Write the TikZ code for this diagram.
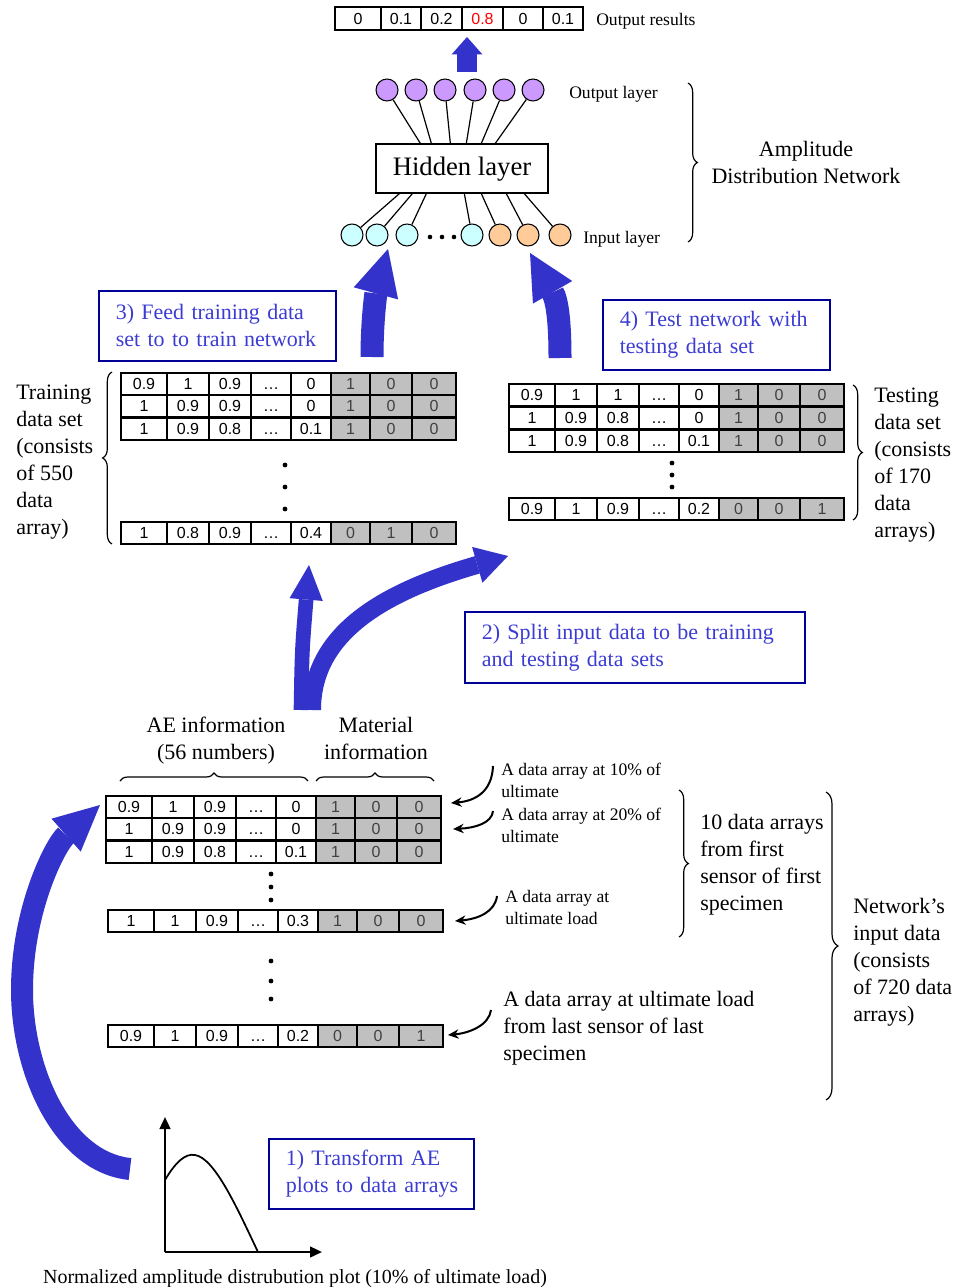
\documentclass[tikz,border=0pt]{standalone}
\usepackage{fontspec}
\setmainfont{Liberation Serif}
\newfontfamily\numfont{Liberation Sans}
\usetikzlibrary{arrows.meta,decorations.pathreplacing,calc}
\definecolor{arrowblue}{RGB}{51,51,204}
\definecolor{boxblue}{RGB}{0,0,153}
\definecolor{txtblue}{RGB}{60,60,210}
\definecolor{cellgrey}{RGB}{192,192,192}
\definecolor{outpurple}{RGB}{204,153,255}
\definecolor{incyan}{RGB}{204,255,255}
\definecolor{inorange}{RGB}{255,204,153}
\def\colpos{{0,46,88,130,170,210,249,291,335}}
\newcommand{\ellip}{…}
\newcommand{\datarow}[4]{%
  \foreach \v [count=\i] in {#4} {
    \pgfmathsetmacro\xa{#2+\colpos[\i-1]}
    \pgfmathsetmacro\xb{#2+\colpos[\i]}
    \ifnum\i>5 \def\cfill{cellgrey}\def\ctext{black!75}\else\def\cfill{white}\def\ctext{black}\fi
    \path[fill=\cfill,draw=black,line width=1pt] (\xa,#3) rectangle (\xb,#3+22);
    \node[numtext,text=\ctext] (#1-\i) at ({(\xa+\xb)/2},#3+11) {\v};
  }
  \draw[line width=1.5pt] (#2,#3) rectangle (#2+335,#3+22);
}
\begin{document}
\begin{tikzpicture}[x=0.75pt,y=-0.75pt,
  numtext/.style={font=\numfont\fontsize{12pt}{14pt}\selectfont, inner sep=0pt, text height=8.6pt, text depth=0pt},
  bigtxt/.style={font=\fontsize{16.5pt}{20.25pt}\selectfont, inner sep=0pt, align=left, yshift=-1.9pt},
  smalltxt/.style={font=\fontsize{13.2pt}{16.5pt}\selectfont, inner sep=0pt, align=left, yshift=-1.5pt},
  stepbox/.style={draw=boxblue, line width=1.2pt, text=txtblue, font=\fontsize{16.5pt}{20.25pt}\selectfont, align=left, inner xsep=12.75pt, inner ysep=0pt, anchor=north west, minimum height=52.5pt},
  neuron/.style={circle, draw, line width=0.8pt, minimum size=16.5pt, inner sep=0pt},
  bigarrow/.style={draw=arrowblue, line cap=butt},
  ptr/.style={line width=1.5pt, -{Stealth[length=8pt,width=7pt]}},
  brc/.style={decorate, decoration={brace, amplitude=#1}, line width=0.9pt}
]
\useasboundingbox (0,0) rectangle (956,1287);

% ---------- output results ----------
\foreach \xa/\xb/\v/\c [count=\i] in {335/381/0/black, 381/421/0.1/black, 421/462/0.2/black, 462/503/0.8/red, 503/543/0/black, 543/583/0.1/black} {
  \path[draw=black,line width=1pt] (\xa,7) rectangle (\xb,30);
  \node[numtext,text=\c] (out-\i) at ({(\xa+\xb)/2},18.5) {\v};
}
\draw[line width=1.5pt] (335,7) rectangle (583,30);
\node[smalltxt, anchor=west] (outres) at (596,19) {Output results};

% arrow from network to output
\coordinate (oa1) at (467,72);
\coordinate (oa2) at (467,37);
\draw[bigarrow, line width=15pt, -{Triangle[length=13pt,width=23pt,line width=0pt]}] (oa1) -- (oa2);

% ---------- network ----------
\node[draw, line width=1pt, minimum width=129pt, minimum height=36.75pt, font=\fontsize{20pt}{24pt}\selectfont, text depth=3pt] (hid) at (462,168.5) {Hidden layer};
\foreach \x [count=\i] in {387,416,445,475,504,533} {
  \node[neuron, fill=outpurple] (o\i) at (\x,90) {};
}
\foreach \i/\dx in {1/45,2/56,3/75,4/91,5/106,6/120} {
  \draw[line width=0.9pt] (o\i) -- ($(hid.north west)+(\dx,0)$);
}
\foreach \x/\c [count=\i] in {352/incyan,377/incyan,407/incyan,472/incyan,500/inorange,528/inorange,560/inorange} {
  \node[neuron, fill=\c] (i\i) at (\x,235) {};
}
\foreach \i/\dx in {1/24,2/37,3/51,4/89,5/106,6/131,7/149} {
  \draw[line width=0.9pt] (i\i) -- ($(hid.south west)+(\dx,0)$);
}
\foreach \x in {430,442,454} { \fill (\x,237) circle (2.3); }
\node[smalltxt, anchor=west] (outlay) at (569,92) {Output layer};
\node[smalltxt, anchor=west] (inlay) at (583,237) {Input layer};
\draw[brc=7pt] (688,83) -- (688,242);
\node[bigtxt, align=center, yshift=1.9pt] (adn) at (806,162.5) {Amplitude\\Distribution Network};

% ---------- step boxes ----------
\node[stepbox, text width=152.25pt] (b3) at (98,290) {\mbox{3) Feed training data}\\\mbox{set to to train network}};
\node[stepbox, text width=144.75pt] (b4) at (602,299) {\mbox{4) Test network with}\\\mbox{testing data set}};
\node[stepbox, text width=229.5pt, minimum height=53.25pt] (b2) at (464,611) {\mbox{2) Split input data to be training}\\\mbox{and testing data sets}};
\node[stepbox, text width=128.25pt] (b1) at (268,1138) {\mbox{1) Transform AE}\\\mbox{plots to data arrays}};

% ---------- training set ----------
\datarow{tr1}{121}{373}{0.9,1,0.9,\ellip,0,1,0,0}
\datarow{tr2}{121}{395}{1,0.9,0.9,\ellip,0,1,0,0}
\datarow{tr3}{121}{418}{1,0.9,0.8,\ellip,0.1,1,0,0}
\datarow{tr4}{121}{522}{1,0.8,0.9,\ellip,0.4,0,1,0}
\foreach \y in {465,487,509} { \fill (285,\y) circle (2.4); }
\draw[brc=7pt] (112,544) -- (112,372);
\node[bigtxt, anchor=west] (trainlbl) at (16,459.5) {Training\\data set\\(consists\\of 550\\data\\array)};

% ---------- testing set ----------
\datarow{te1}{509}{384}{0.9,1,1,\ellip,0,1,0,0}
\datarow{te2}{509}{407}{1,0.9,0.8,\ellip,0,1,0,0}
\datarow{te3}{509}{430}{1,0.9,0.8,\ellip,0.1,1,0,0}
\datarow{te4}{509}{498}{0.9,1,0.9,\ellip,0.2,0,0,1}
\foreach \y in {463,475,487} { \fill (672,\y) circle (2.4); }
\draw[brc=7pt] (853,385) -- (853,520);
\node[bigtxt, anchor=west] (testlbl) at (874,463) {Testing\\data set\\(consists\\of 170\\data\\arrays)};

% ---------- arrows 3 and 4 ----------
\coordinate (a3s) at (372,357);
\coordinate (a3e) at (388,249);
\draw[bigarrow, line width=17.25pt, -{Triangle[length=34.5pt,width=34.5pt,line width=0pt]}] (a3s) .. controls (372,320) and (376,293) .. (a3e);
\coordinate (a4s) at (560,358);
\coordinate (a4e) at (530,253);
\draw[bigarrow, line width=17.25pt, -{Triangle[length=34pt,width=34pt,line width=0pt]}] (a4s) .. controls (560,320) and (557,300) .. (a4e);

% ---------- split arrow 2 ----------
\coordinate (a2v) at (301,710);
\coordinate (a2ve) at (309,565);
\coordinate (a2c) at (312,710);
\coordinate (a2ce) at (508,556);
\draw[bigarrow, line width=11pt, -{Triangle[length=26pt,width=25pt,line width=0pt]}] (a2v) .. controls (302,650) .. (a2ve);
\draw[bigarrow, line width=13.5pt, -{Triangle[length=24pt,width=28pt,line width=0pt]}] (a2c) .. controls (312,630) and (390,590) .. (a2ce);

% ---------- input data ----------
\node[bigtxt, align=center] (aeinfo) at (216,738.5) {AE information\\(56 numbers)};
\node[bigtxt, align=center] (matinfo) at (376,735.5) {Material\\information};
\draw[brc=6pt] (120,781) -- (308,781);
\draw[brc=6pt] (316,781) -- (434,781);
\datarow{in1}{106}{796}{0.9,1,0.9,\ellip,0,1,0,0}
\datarow{in2}{106}{818}{1,0.9,0.9,\ellip,0,1,0,0}
\datarow{in3}{106}{841}{1,0.9,0.8,\ellip,0.1,1,0,0}
\foreach \y in {874,887,900} { \fill (271,\y) circle (2.4); }
\datarow{in4}{108}{910}{1,1,0.9,\ellip,0.3,1,0,0}
\foreach \y in {961,981,999} { \fill (271,\y) circle (2.4); }
\datarow{in5}{108}{1025}{0.9,1,0.9,\ellip,0.2,0,0,1}

\node[smalltxt, anchor=west] (ann1) at (501,778) {A data array at 10\% of\\ultimate};
\node[smalltxt, anchor=west] (ann2) at (501,823) {A data array at 20\% of\\ultimate};
\node[smalltxt, anchor=west] (ann3) at (505,905.5) {A data array at\\ultimate load};
\node[bigtxt, anchor=west] (ann4) at (503,1026) {A data array at ultimate load\\from last sensor of last\\specimen};
\coordinate (p1s) at (493,766);
\coordinate (p1e) at (451,803);
\coordinate (p2s) at (493,811);
\coordinate (p2e) at (453,829);
\coordinate (p3s) at (497,896);
\coordinate (p3e) at (455,921);
\coordinate (p4s) at (491,1010);
\coordinate (p4e) at (448,1035);
\draw[ptr] (p1s) .. controls (492,792) and (475,801) .. (p1e);
\draw[ptr] (p2s) .. controls (492,823) and (475,828) .. (p2e);
\draw[ptr] (p3s) .. controls (495,912) and (478,919) .. (p3e);
\draw[ptr] (p4s) .. controls (489,1025) and (470,1033) .. (p4e);

\draw[brc=7pt] (679,790) -- (679,937);
\node[bigtxt, anchor=west] (tenarr) at (700,862) {10 data arrays\\from first\\sensor of first\\specimen};
\draw[brc=9pt] (826,792) -- (826,1100);
\node[bigtxt, anchor=west] (netin) at (853,960) {Network’s\\input data\\(consists\\of 720 data\\arrays)};

% ---------- arrow 1 ----------
\coordinate (a1s) at (130,1169);
\coordinate (a1e) at (100,805);
\draw[bigarrow, line width=16.5pt, -{Triangle[length=34pt,width=33pt,line width=0pt]}] (a1s) .. controls (62,1162) and (22,1070) .. (22,990) .. controls (22,910) and (55,845) .. (a1e);

% ---------- plot ----------
\coordinate (origin) at (165,1252);
\coordinate (yend) at (165,1117);
\coordinate (xend) at (322,1252);
\draw[line width=1.8pt, -{Triangle[length=9pt,width=8pt]}] (origin) -- (yend);
\draw[line width=1.8pt, -{Triangle[length=9pt,width=8pt]}] (origin) -- (xend);
\draw[line width=1.3pt] (165,1180) .. controls (175,1163) and (185,1153) .. (195,1155) .. controls (215,1158) and (238,1210) .. (258,1252);
\node[font=\fontsize{15pt}{18pt}\selectfont, inner sep=0pt, yshift=-1.9pt] (caption) at (295,1276) {Normalized amplitude distrubution plot (10\% of ultimate load)};
\end{tikzpicture}
\end{document}
